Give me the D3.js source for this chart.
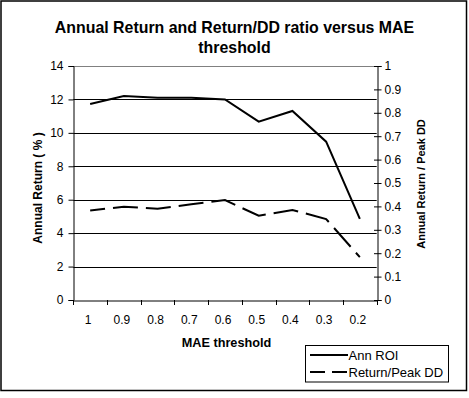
<!DOCTYPE html>
<html><head><meta charset="utf-8">
<script src="https://cdn.jsdelivr.net/npm/d3@7"></script>
<style>
html,body{margin:0;padding:0;background:#fff;}
svg text{font-family:"Liberation Sans",Arial,sans-serif;fill:#000;}
</style></head>
<body>
<svg id="c" width="469" height="398"></svg>
<script>
const categories = ["1","0.9","0.8","0.7","0.6","0.5","0.4","0.3","0.2"];
const annROI = [11.73, 12.2, 12.1, 12.1, 12.0, 10.67, 11.31, 9.47, 4.85];
const returnPeakDD = [0.382, 0.399, 0.390, 0.409, 0.427, 0.360, 0.385, 0.346, 0.183];
const leftTicks = [0,2,4,6,8,10,12,14];
const rightTicks = [0,0.1,0.2,0.3,0.4,0.5,0.6,0.7,0.8,0.9,1];
const titleLines = ["Annual Return and Return/DD ratio versus MAE","threshold"];
const seriesNames = ["Ann ROI","Return/Peak DD"];

const svg = d3.select("#c");
const L = 73.3, R = 376.7, T = 66, B = 300;

const x = d3.scaleBand().domain(categories).range([L, R]).padding(0);
const yL = d3.scaleLinear().domain([0,14]).range([B, T]);
const yR = d3.scaleLinear().domain([0,1]).range([B, T]);

// outer border
svg.append("rect").attr("x",1).attr("y",1).attr("width",465.5).attr("height",389.5)
  .attr("fill","#fff").attr("stroke","#000").attr("stroke-width",1.5);

// title
svg.append("g").selectAll("text").data(titleLines).join("text")
  .attr("x",234.5).attr("y",(d,i)=>33+i*20.3).attr("text-anchor","middle")
  .attr("font-weight","bold").attr("font-size","15.9px").text(d=>d);

// plot border (gray top)
svg.append("line").attr("x1",L).attr("x2",R).attr("y1",yL(14)+0.5).attr("y2",yL(14)+0.5)
  .attr("stroke","#808080").attr("stroke-width",1);

// grid lines
svg.append("g").selectAll("line").data(leftTicks.filter(d=>d>0&&d<14)).join("line")
  .attr("x1",L).attr("x2",R).attr("y1",d=>Math.round(yL(d))+0.5).attr("y2",d=>Math.round(yL(d))+0.5)
  .attr("stroke","#000").attr("stroke-width",1);

// left axis
const gl = svg.append("g").attr("transform",`translate(${Math.round(L)+0.5},0)`)
  .call(d3.axisLeft(yL).tickValues(leftTicks).tickSize(5).tickPadding(5).tickFormat(d3.format("d")));
gl.select(".domain").attr("stroke","#000");
gl.selectAll(".tick line").attr("stroke","#000");
gl.selectAll(".tick text").attr("font-size","12px").attr("font-family","Liberation Sans, Arial, sans-serif").attr("fill","#000");

// right axis (cross ticks)
const gr = svg.append("g").attr("transform",`translate(${Math.round(R)+0.5},0)`)
  .call(d3.axisRight(yR).tickValues(rightTicks).tickSize(4).tickPadding(3).tickFormat(d=>d===0?"0":(d===1?"1":d3.format(".1f")(d))));
gr.select(".domain").attr("stroke","#000");
gr.selectAll(".tick line").attr("stroke","#000").attr("x1",-3.5);
gr.selectAll(".tick text").attr("font-size","12px").attr("font-family","Liberation Sans, Arial, sans-serif").attr("fill","#000");

// bottom axis
const gb = svg.append("g").attr("transform",`translate(0,${B+0.5})`)
  .call(d3.axisBottom(x).tickSize(0).tickPadding(15));
gb.select(".domain").attr("stroke","#000");
gb.selectAll(".tick text").attr("font-size","12px").attr("font-family","Liberation Sans, Arial, sans-serif").attr("fill","#000").attr("dx",-2);
// boundary ticks
const edges = categories.map(c=>x(c)).concat([x.range()[1]]);
svg.append("g").selectAll("line").data(edges).join("line")
  .attr("x1",d=>Math.round(d)+0.5).attr("x2",d=>Math.round(d)+0.5)
  .attr("y1",B).attr("y2",B+5).attr("stroke","#000");

// lines
const cx = c => x(c) + x.bandwidth()/2;
svg.append("path").datum(annROI)
  .attr("d", d3.line().x((d,i)=>cx(categories[i])).y(d=>yL(d)))
  .attr("fill","none").attr("stroke","#000").attr("stroke-width",2);
svg.append("path").datum(returnPeakDD)
  .attr("d", d3.line().x((d,i)=>cx(categories[i])).y(d=>yR(d)))
  .attr("fill","none").attr("stroke","#000").attr("stroke-width",2)
  .attr("stroke-dasharray","25,8").attr("stroke-dashoffset",10);

// axis titles
svg.append("text").attr("transform",`translate(41.5,188) rotate(-90)`)
  .attr("text-anchor","middle").attr("font-weight","bold").attr("font-size","12px")
  .text("Annual Return ( % )");
svg.append("text").attr("transform",`translate(425,184) rotate(-90)`)
  .attr("text-anchor","middle").attr("font-weight","bold").attr("font-size","11px")
  .text("Annual Return / Peak DD");
svg.append("text").attr("x",(L+R)/2+1.5).attr("y",347).attr("text-anchor","middle")
  .attr("font-weight","bold").attr("font-size","12.7px").text("MAE threshold");

// legend
const lg = svg.append("g");
lg.append("rect").attr("x",305.5).attr("y",345.5).attr("width",143).attr("height",36.5)
  .attr("fill","#fff").attr("stroke","#000").attr("stroke-width",1);
const dashes = [null,"15,7"];
seriesNames.forEach((n,i)=>{
  const yy = 355 + i*17;
  lg.append("line").attr("x1",310).attr("x2",348).attr("y1",yy).attr("y2",yy)
    .attr("stroke","#000").attr("stroke-width",2).attr("stroke-dasharray",dashes[i]);
  lg.append("text").attr("x",348.5).attr("y",yy+4.5).attr("font-size","13px").text(n);
});
</script>
</body></html>
